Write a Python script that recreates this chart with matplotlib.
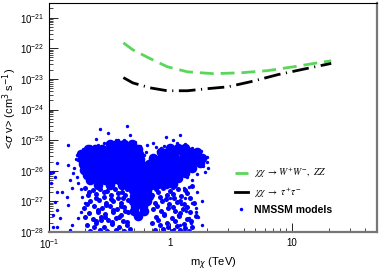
import matplotlib
matplotlib.use("Agg")
import matplotlib.pyplot as plt
import numpy as np
from matplotlib.ticker import LogLocator, FixedLocator, FuncFormatter, NullFormatter
from matplotlib.lines import Line2D

plt.rcParams['font.family'] = ['Liberation Sans', 'DejaVu Sans']

# limit curves (mass in TeV, <sigma v> in cm^3/s)
ww_mass = [0.41, 0.49, 0.68, 0.94, 1.38, 2.26, 3.79, 6.3, 10.4, 15.2, 21.0]
ww_sv = [1.5e-22, 8.9e-23, 4.6e-23, 2.5e-23, 1.7e-23, 1.48e-23, 1.58e-23, 1.86e-23, 2.5e-23, 3.2e-23, 3.9e-23]
tau_mass = [0.41, 0.49, 0.68, 0.94, 1.38, 2.02, 2.96, 4.58, 7.66, 12.6, 21.0]
tau_sv = [1.1e-23, 7.4e-24, 5.1e-24, 4.1e-24, 4.1e-24, 4.8e-24, 5.5e-24, 8.1e-24, 1.38e-23, 2.1e-23, 3.2e-23]

y_decades = [1e-28, 1e-27, 1e-26, 1e-25, 1e-24, 1e-23, 1e-22, 1e-21]

# NMSSM models, dense part (log10 mass, log10 sigma v), one list per row
core_rows_sv = [-25.12, -25.28, -25.45, -25.62, -25.79, -25.96, -26.13, -26.3, -26.47,
                -26.64, -26.81, -26.98, -27.15, -27.32, -27.49,
                -25.25, -25.4, -25.57, -25.74, -25.91, -26.08, -26.25, -26.42]
core_rows_m = [
    [-0.5, -0.44, -0.38, -0.32],
    [-0.68, -0.62, -0.56, -0.5, -0.44, -0.38, -0.32, -0.27],
    [-0.74, -0.68, -0.62, -0.56, -0.5, -0.44, -0.38, -0.32, -0.26],
    [-0.73, -0.67, -0.61, -0.55, -0.49, -0.43, -0.37, -0.31, -0.25],
    [-0.72, -0.66, -0.6, -0.54, -0.48, -0.42, -0.36, -0.3, -0.24, -0.18],
    [-0.71, -0.65, -0.59, -0.53, -0.47, -0.41, -0.35, -0.29, -0.23, -0.17],
    [-0.69, -0.63, -0.57, -0.51, -0.45, -0.39, -0.33, -0.27, -0.21, -0.16],
    [-0.66, -0.6, -0.54, -0.48, -0.42, -0.36, -0.3, -0.24, -0.18],
    [-0.6, -0.5, -0.4, -0.33, -0.27, -0.21, -0.16],
    [-0.31, -0.25, -0.19],
    [-0.3, -0.24, -0.18],
    [-0.31, -0.25, -0.19],
    [-0.29, -0.23],
    [-0.3, -0.22],
    [-0.27],
    [0.0, 0.06, 0.12],
    [-0.08, -0.02, 0.04, 0.1, 0.16, 0.22],
    [-0.14, -0.08, -0.02, 0.04, 0.1, 0.16, 0.22, 0.26],
    [-0.12, -0.06, 0.0, 0.06, 0.12, 0.18, 0.24],
    [-0.12, -0.06, 0.0, 0.06, 0.12, 0.18],
    [-0.12, -0.06, 0.0, 0.06, 0.12],
    [-0.12, -0.06, 0.0, 0.06],
    [-0.1, -0.04, 0.02],
]

# NMSSM models, crowded lower part (log10 mass, log10 sigma v)
low_logm = [-0.7, -0.64, -0.58, -0.52, -0.46, -0.4, -0.36, -0.68, -0.61, -0.55, -0.49, -0.43, -0.37,
            -0.66, -0.59, -0.53, -0.47, -0.41, -0.35, -0.71, -0.63, -0.56, -0.5, -0.44, -0.38,
            -0.67, -0.6, -0.54, -0.47, -0.41, -0.35, -0.64, -0.57, -0.51, -0.45, -0.39,
            -0.69, -0.61, -0.55, -0.48, -0.42, -0.36, -0.66, -0.58, -0.52, -0.45, -0.38, -0.33,
            -0.67, -0.61, -0.55, -0.49, -0.43, -0.39, -0.69, -0.6, -0.53, -0.47, -0.41, -0.37,
            -0.7, -0.61, -0.54, -0.48, -0.42, -0.36, -0.63, -0.57,
            -0.12, -0.06, 0.0, 0.06, 0.12, 0.18, -0.15, -0.09, -0.03, 0.03, 0.09, 0.16,
            -0.13, -0.07, -0.01, 0.05, 0.11, 0.19, -0.14, -0.08, -0.02, 0.04, 0.1, 0.16,
            -0.12, -0.05, 0.01, 0.07, 0.14, 0.21, -0.15, -0.09, -0.03, 0.05, 0.11, 0.18,
            -0.13, -0.06, 0.01, 0.08, 0.15,
            -0.1, -0.04, 0.02, 0.08, 0.14, -0.11, -0.05, 0.02, 0.08, 0.14, -0.1, -0.02, 0.04, 0.12, 0.17]
low_logsv = [-26.55, -26.62, -26.58, -26.66, -26.6, -26.7, -26.58, -26.8, -26.76, -26.85, -26.78, -26.88, -26.8,
             -27.0, -26.95, -27.05, -26.98, -27.06, -26.96, -27.2, -27.15, -27.22, -27.14, -27.25, -27.17,
             -27.38, -27.33, -27.42, -27.35, -27.44, -27.36, -27.58, -27.52, -27.62, -27.55, -27.64,
             -27.78, -27.72, -27.82, -27.75, -27.85, -27.78, -27.95, -27.92, -27.97, -27.93, -27.96, -27.9,
             -26.68, -26.9, -26.7, -26.92, -26.72, -26.9, -27.1, -27.28, -27.12, -27.28, -27.15, -27.3,
             -27.5, -27.65, -27.5, -27.68, -27.52, -27.66, -27.85, -27.62,
             -26.6, -26.55, -26.65, -26.58, -26.62, -26.5, -26.8, -26.85, -26.78, -26.9, -26.82, -26.88,
             -27.05, -27.0, -27.08, -27.02, -27.1, -27.04, -27.25, -27.3, -27.22, -27.32, -27.26, -27.35,
             -27.5, -27.45, -27.55, -27.48, -27.58, -27.46, -27.72, -27.78, -27.7, -27.8, -27.74, -27.82,
             -27.94, -27.9, -27.96, -27.92, -27.97,
             -26.7, -26.92, -26.75, -26.98, -26.72, -27.15, -27.4, -27.18, -27.38, -27.18, -27.62, -27.85,
             -27.65, -27.88, -27.65]

# NMSSM models, isolated points
edge_logm = [-0.84, -0.93, -0.97, -0.99, -0.95, -0.98, -0.93, -0.89, -0.95, -0.93, -0.97, -0.91, -0.97, -0.93,
             -0.84, -0.85, -0.81, -0.83, -0.8, -0.84, -0.76, -0.77, -0.81, -0.83, -0.74, -0.76, -0.73, -0.7,
             -0.58, -0.51, -0.36, -0.61, -0.52, -0.43, -0.33, -0.31, -0.04, 0.02, 0.08, -0.08, -0.12, -0.19,
             -0.25, -0.4, -0.65, -0.7, -0.47, -0.14,
             0.15, 0.22, 0.26, 0.21, 0.21, 0.26, 0.15, 0.08, 0.06, 0.12, 0.11, 0.02, 0.0, 0.18, 0.22, 0.27,
             0.3, 0.14, 0.18, 0.09, 0.04, 0.13, 0.03, 0.11, 0.17, 0.23,
             -0.72, -0.66, -0.6, -0.55, -0.45, -0.38, -0.29, -0.22, -0.2, -0.1, -0.05, 0.05, 0.12, 0.18,
             0.25, 0.3, 0.31, 0.28, -0.78, -0.79, -0.77, -0.76, -0.74]
edge_logsv = [-25.15, -25.74, -26.04, -26.08, -26.2, -26.4, -26.69, -26.69, -27.02, -27.28, -27.44, -27.54, -27.84,
              -27.84, -27.12, -26.86, -26.56, -26.3, -26.07, -25.81, -25.64, -25.48, -27.77, -27.93, -27.35, -27.54,
              -26.86, -27.05,
              -24.63, -24.76, -24.53, -24.96, -25.09, -24.99, -24.83, -25.15, -24.89, -24.99, -24.83, -25.25,
              -25.22, -25.15, -25.2, -25.22, -25.3, -25.35, -25.25, -25.08,
              -26.53, -26.69, -26.99, -27.21, -27.35, -27.77, -27.54, -27.77, -27.44, -26.89, -26.56, -26.56,
              -26.89, -26.3, -26.1, -25.85, -25.7, -26.2, -27.05, -27.1, -27.3, -27.3, -27.9, -27.95, -27.7, -27.5,
              -25.3, -25.2, -25.15, -25.1, -24.98, -25.0, -25.05, -25.5, -25.4, -25.35, -25.2, -25.1, -25.12,
              -25.25, -25.35, -25.55, -25.9, -26.05, -25.6, -25.9, -26.2, -26.4, -26.6]

core_m, core_sv = [], []
for sv, row in zip(core_rows_sv, core_rows_m):
    core_m += row
    core_sv += [sv] * len(row)

fig = plt.figure(figsize=(3.82, 2.73), dpi=100)
ax = fig.add_axes([0.128, 0.150, 0.859, 0.839])

blue = '#0000ff'
ax.scatter(10 ** np.array(core_m), 10 ** np.array(core_sv), s=48, color=blue, linewidths=0, zorder=2)
ax.scatter(10 ** np.array(low_logm), 10 ** np.array(low_logsv), s=13, color=blue, linewidths=0, zorder=2)
ax.scatter(10 ** np.array(edge_logm), 10 ** np.array(edge_logsv), s=6, color=blue, linewidths=0, zorder=2)
ax.plot(ww_mass, ww_sv, color='#5ad65a', lw=2, ls=(0, (5, 2.5)), zorder=3)
ax.plot(tau_mass, tau_sv, color='black', lw=2, ls=(0, (6, 2, 0.4, 2)), zorder=3)

ax.set_xscale('log')
ax.set_yscale('log')
ax.set_xlim(0.1, 50)
ax.set_ylim(1e-28, 3e-21)

ax.xaxis.set_major_locator(FixedLocator([0.1, 1, 10]))
ax.xaxis.set_minor_locator(LogLocator(base=10, subs=np.arange(2, 10), numticks=20))
ax.yaxis.set_major_locator(FixedLocator(y_decades))
ax.yaxis.set_minor_locator(LogLocator(base=10, subs=np.arange(2, 10), numticks=30))


def xfmt(v, pos):
    if abs(v - 0.1) < 1e-6:
        return r'$\mathdefault{10^{-1}}$'
    return '%g' % v


def yfmt(v, pos):
    return r'$\mathdefault{10^{%d}}$' % round(np.log10(v))


ax.xaxis.set_major_formatter(FuncFormatter(xfmt))
ax.yaxis.set_major_formatter(FuncFormatter(yfmt))
ax.xaxis.set_minor_formatter(NullFormatter())
ax.yaxis.set_minor_formatter(NullFormatter())
ax.tick_params(which='both', direction='in', top=False, right=False, labelsize=7, colors='black')
ax.tick_params(which='major', length=6.5, width=0.6)
ax.tick_params(which='minor', length=3.2, width=0.5)
ax.tick_params(axis='x', pad=4)

for side in ['left', 'top']:
    ax.spines[side].set_linewidth(0.8)
for side in ['right', 'bottom']:
    ax.spines[side].set_linewidth(1.6)
    ax.spines[side].set_color('#777777')

ax.set_xlabel(r'm$_{\chi}$ (TeV)', fontsize=8, labelpad=3)
ax.set_ylabel(r'<$\sigma$ v> (cm$^{3}$ s$^{-1}$)', fontsize=8)
ax.yaxis.set_label_coords(-0.09, 0.54)

handles = [
    Line2D([], [], color='#5ad65a', lw=2, ls=(0, (5, 2.5))),
    Line2D([], [], color='black', lw=2, ls='-'),
    Line2D([], [], color=blue, marker='.', ls='none', markersize=3),
]
labels = [r'$\chi\chi\ \rightarrow W^{+}W^{-},\ ZZ$', r'$\chi\chi\ \rightarrow\ \tau^{+}\tau^{-}$', 'NMSSM models']
leg = ax.legend(handles, labels, loc='upper left', bbox_to_anchor=(0.55, 0.31), frameon=False,
                fontsize=7.5, handlelength=1.3, handletextpad=0.6, labelspacing=0.5, borderpad=0)
for t in leg.get_texts()[:2]:
    t.set_math_fontfamily('stix')
    t.set_fontsize(7)
leg.get_texts()[2].set_fontweight('bold')

fig.savefig('out.png', dpi=100)
